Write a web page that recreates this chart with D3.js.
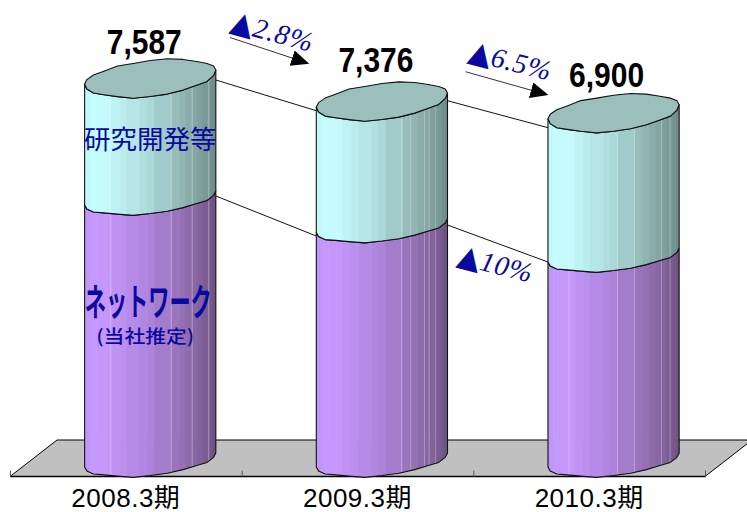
<!DOCTYPE html>
<html>
<head>
<meta charset="utf-8">
<script src="https://cdn.jsdelivr.net/npm/d3@7"></script>
<style>
  html, body { margin: 0; padding: 0; background: #fff; overflow: hidden; }
  svg { display: block; }
</style>
</head>
<body>
<div id="graphArea"></div>
<script>
const years = ["2008.3期", "2009.3期", "2010.3期"];
const totalLabels = ["7,587", "7,376", "6,900"];
// heights as drawn (the 2009 column is drawn shorter than its label says)
const network = [5190, 4645, 4061];
const research = [2397, 2486, 2839];
const changeLabels = ["2.8%", "6.5%", "10%"];
const segmentNames = ["研究開発等", "ネットワーク", "(当社推定)"];

const width = 747, height = 512;
const baseY = 460, halfW = 65.6, tilt = 7, capB = 18, ringB = 14;
const blue = "#0a0aa0";

// lumps of the cap outline, px, one for every 15 degrees
const capWobble = [0, .5, 1.5, .5, 1, 1.5, 1.5, 2, .5, 0, 1, .5, 0, .5, 1, 2, 1, 2, 1.5, 1, 1.5, 2.2, 1.5, .5];
const stripEdges = [0, .04, .09, .2, .27, .32, .42, .47, .53, .66, .72, .77, .82, .86, .9, .95, .97, 1];
const shineLines = [[.2, .66, .82, .945], [.65, .72, .825, .86, .91], [.16, .53, .66, .865, .93]];

const shadeStops = [0, .1, .5, .75, .9, 1];
const tealShade = d3.scaleLinear().domain(shadeStops).range(["#c0f6f6", "#c8ffff", "#acd8d8", "#90b4b2", "#7d9d9b", "#6c8a88"]);
const purpleShade = d3.scaleLinear().domain(shadeStops).range(["#c094f6", "#c89aff", "#ad83dc", "#9470b2", "#80619a", "#6a5280"]);

const x = d3.scaleBand().domain(years).range([10, 705]);
const y = d3.scaleLinear().domain([0, 8000]).range([baseY, baseY - 8000 * 0.05048]);

const svg = d3.select("#graphArea").append("svg")
  .attr("width", width)
  .attr("height", height);

function colCenter(i) {
  return x(years[i]) + x.bandwidth() / 2 + 24.4;
}

function capPoint(cx, cy, step, b) {
  const t = step * Math.PI / 12;
  return [cx + halfW * Math.cos(t), cy + b * Math.sin(t) - tilt * Math.cos(t) + capWobble[step % 24]];
}

// front half of a ring, right to left (steps 0..12)
function frontCurve(cx, cy, b) {
  return d3.range(0, 13).map(s => capPoint(cx, cy, s, b));
}

const line = d3.line();

// floor
const floorY = 476.5, backY = 440, depth = 47;
svg.append("path")
  .attr("d", line([[x.range()[0], floorY], [x.range()[0] + depth, backY], [x.range()[1] + depth, backY], [x.range()[1], floorY]]) + "Z")
  .attr("fill", "#c0c0c0")
  .attr("stroke", "#000")
  .attr("stroke-width", 1);

const xAxis = d3.axisBottom(x).tickSize(0).tickPadding(13);
const axisG = svg.append("g").attr("transform", "translate(0," + (floorY - .5) + ")").call(xAxis);
axisG.select(".domain").attr("stroke", "#000").attr("stroke-width", 1.4);
axisG.selectAll("text")
  .attr("fill", "#000")
  .attr("letter-spacing", ".5px")
  .style("font-family", "'Liberation Sans','Noto Sans CJK JP',sans-serif")
  .style("font-size", "26px");

// band boundary ticks
svg.selectAll(".bandTick").data(d3.range(0, 4)).join("line")
  .attr("class", "bandTick")
  .attr("x1", i => x.range()[0] + i * x.step() + .5)
  .attr("x2", i => x.range()[0] + i * x.step() + .5)
  .attr("y1", floorY - 6)
  .attr("y2", floorY)
  .attr("stroke", "#555");

// connecting lines between the columns, nudged from the column corners
const tops = network.map((n, i) => y(n + research[i]));
const mids = network.map(n => y(n));
[[tops, [10, 7.7], [3.7, 9]], [mids, [5, 6.5], [3.5, 0]]].forEach(link => {
  d3.range(0, 2).forEach(i => {
    svg.append("line")
      .attr("x1", colCenter(i) + halfW)
      .attr("y1", link[0][i] - tilt + link[1][i])
      .attr("x2", colCenter(i + 1) - halfW)
      .attr("y2", link[0][i + 1] + tilt + link[2][i])
      .attr("stroke", "#111")
      .attr("stroke-width", 1);
  });
});

const defs = svg.append("defs");

function drawSegment(i, name, low, high, highB, shade) {
  const cx = colCenter(i);
  const left = cx - halfW;
  const top = frontCurve(cx, high, highB);              // right to left
  const bottom = frontCurve(cx, low, ringB).reverse();  // left to right
  const outline = line(top.concat(bottom)) + "Z";
  const id = "clip" + name + i;
  defs.append("clipPath").attr("id", id).append("path").attr("d", outline);

  const g = svg.append("g").attr("clip-path", "url(#" + id + ")");
  g.selectAll("rect").data(d3.pairs(stripEdges)).join("rect")
    .attr("x", d => left + d[0] * halfW * 2)
    .attr("width", d => (d[1] - d[0]) * halfW * 2 + .5)
    .attr("y", high - 30)
    .attr("height", low - high + 60)
    .attr("fill", d => shade((d[0] + d[1]) / 2));
  g.selectAll("line").data(shineLines[i]).join("line")
    .attr("x1", d => left + d * halfW * 2)
    .attr("x2", d => left + d * halfW * 2)
    .attr("y1", high - 30)
    .attr("y2", low + 30)
    .attr("stroke", "#fff")
    .attr("stroke-opacity", .3)
    .attr("stroke-width", 1);

  svg.append("path")
    .attr("d", outline)
    .attr("fill", "none")
    .attr("stroke", "#111")
    .attr("stroke-width", 1.1)
    .attr("stroke-linejoin", "round");
}

years.forEach((year, i) => {
  const cx = colCenter(i);
  drawSegment(i, "net", y(0), y(network[i]), ringB, purpleShade);
  drawSegment(i, "res", y(network[i]), y(network[i] + research[i]), capB, tealShade);
  const cap = d3.range(0, 24).map(s => capPoint(cx, y(network[i] + research[i]), s, capB));
  svg.append("path")
    .attr("d", line(cap) + "Z")
    .attr("fill", "#9bbfbd")
    .attr("stroke", "#111")
    .attr("stroke-width", 1.1)
    .attr("stroke-linejoin", "round");
});

// totals above the columns
const labelY = [53.5, 72, 87];
svg.selectAll(".total").data(totalLabels).join("text")
  .attr("class", "total")
  .attr("x", (d, i) => colCenter(i) - 6 + (i === 2 ? -1 : 0))
  .attr("y", (d, i) => labelY[i])
  .attr("text-anchor", "middle")
  .attr("textLength", 75)
  .attr("lengthAdjust", "spacingAndGlyphs")
  .attr("fill", "#000")
  .style("font-family", "'Liberation Sans',sans-serif")
  .style("font-weight", "bold")
  .style("font-size", "35px")
  .text(d => d);

// names on the first column
svg.append("text")
  .attr("x", colCenter(0)).attr("y", 149)
  .attr("text-anchor", "middle")
  .attr("fill", blue)
  .style("font-family", "'Noto Sans CJK JP',sans-serif")
  .style("font-size", "26.5px")
  .text(segmentNames[0]);
svg.append("text")
  .attr("x", colCenter(0) - 2).attr("y", 316)
  .attr("text-anchor", "middle")
  .attr("textLength", 127)
  .attr("lengthAdjust", "spacingAndGlyphs")
  .attr("fill", blue)
  .style("font-family", "'Noto Sans CJK JP',sans-serif")
  .style("font-weight", "bold")
  .style("font-size", "37px")
  .text(segmentNames[1]);
svg.append("text")
  .attr("x", colCenter(0) - 5).attr("y", 343)
  .attr("text-anchor", "middle")
  .attr("textLength", 98)
  .attr("lengthAdjust", "spacingAndGlyphs")
  .attr("fill", blue)
  .style("font-family", "'Noto Sans CJK JP',sans-serif")
  .style("font-size", "18px")
  .style("font-weight", "500")
  .text(segmentNames[2]);

// change annotations
const changePos = [[229, 30, 15], [467, 60, 14], [456, 264, 14]];
changeLabels.forEach((label, i) => {
  const p = changePos[i];
  const t = svg.append("text")
    .attr("transform", "translate(" + p[0] + "," + p[1] + ") rotate(" + p[2] + ")")
    .attr("fill", blue);
  t.append("tspan")
    .style("font-family", "'DejaVu Sans',sans-serif")
    .style("font-size", "30px")
    .text("▲");
  t.append("tspan")
    .attr("dx", 0)
    .attr("letter-spacing", ".8px")
    .style("font-family", "'Liberation Serif',serif")
    .style("font-style", "italic")
    .style("font-size", "28px")
    .text(label);
});

// arrows
defs.append("marker")
  .attr("id", "head")
  .attr("markerUnits", "userSpaceOnUse")
  .attr("markerWidth", 20).attr("markerHeight", 20)
  .attr("refX", 3).attr("refY", 8)
  .attr("orient", "auto")
  .append("path")
  .attr("d", line([[0, 0], [18, 8], [0, 16]]) + "Z")
  .attr("fill", "#000");
[[230, 37.5, 295, 59], [465.5, 71.7, 534, 91]].forEach(a => {
  svg.append("line")
    .attr("x1", a[0]).attr("y1", a[1])
    .attr("x2", a[2]).attr("y2", a[3])
    .attr("stroke", "#333")
    .attr("stroke-width", 1)
    .attr("marker-end", "url(#head)");
});
</script>
</body>
</html>
